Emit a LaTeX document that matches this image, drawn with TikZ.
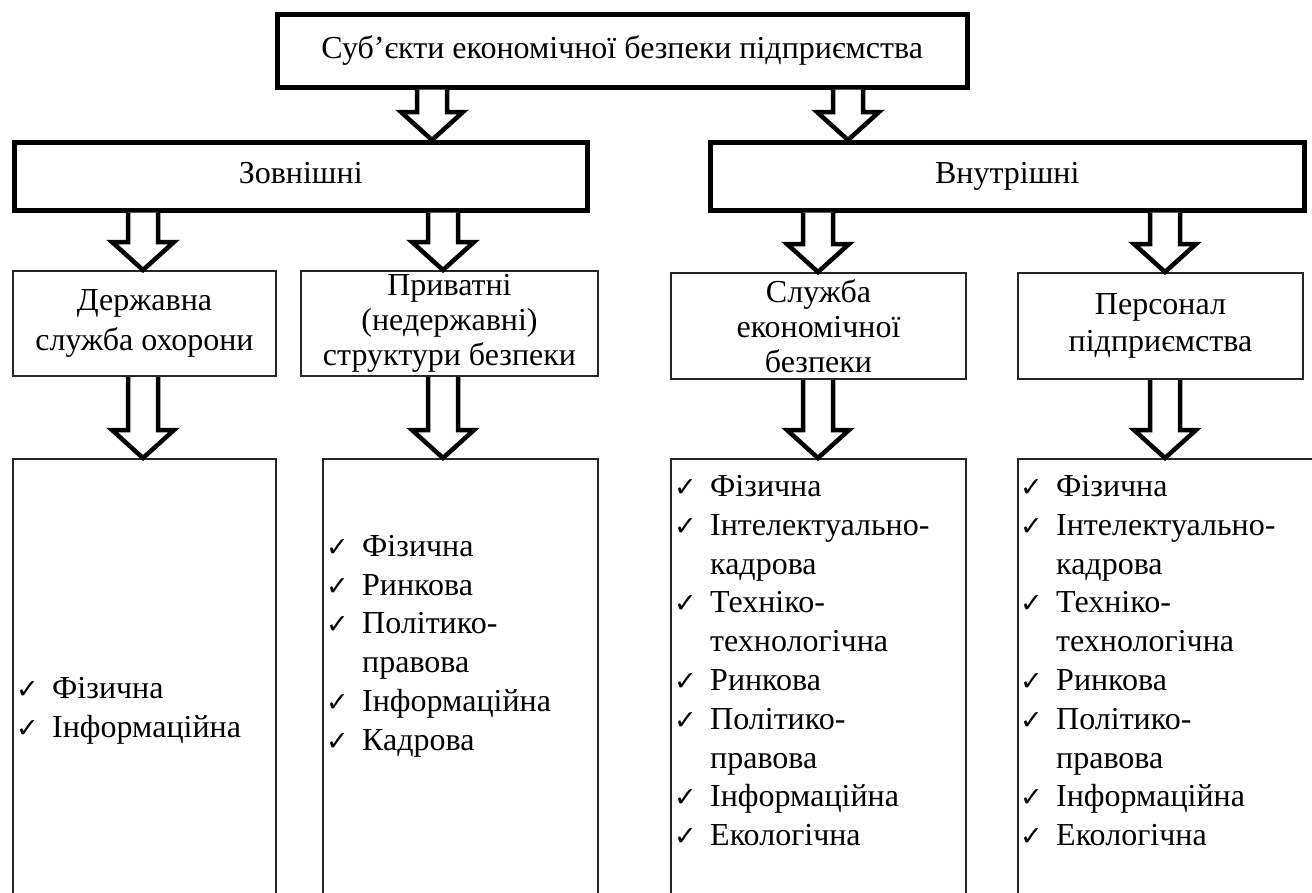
\documentclass[tikz,border=0pt]{standalone}
\usepackage{fontspec}
\setmainfont{Liberation Serif}
\newfontfamily\symf{DejaVu Sans}
\usetikzlibrary{calc}
\tikzset{
  thickbox/.style={draw, line width=4.5, fill=white, inner sep=0, anchor=north west, align=center, text height=22pt, text depth=7pt},
  thinbox/.style={draw=black!85, line width=2, fill=white, inner sep=0, anchor=north west, align=center, font=\fontsize{32}{35}\selectfont},
  listtext/.style={anchor=north west, align=left, inner sep=0},
  blockarr/.style={draw, line width=4.5, fill=white, line join=miter},
}
\newcommand{\chk}{\makebox[36pt][l]{\symf\fontsize{27}{27}\selectfont ✓}}
\newcommand{\nochk}{\hspace*{36pt}}
% #1 source node, #2 target node, #3 x position
\newcommand{\blockarrow}[3]{%
  \draw[blockarr] let \p1=(#1.south), \p2=(#2.north), \p3=(#3,0) in
    (\x3-15pt,\y1) -- (\x3-15pt,\y2+28pt) -- (\x3-31pt,\y2+28pt) -- (\x3,\y2)
    -- (\x3+31pt,\y2+28pt) -- (\x3+15pt,\y2+28pt) -- (\x3+15pt,\y1);
}
\begin{document}
\begin{tikzpicture}[x=1pt,y=-1pt]
\fontsize{32}{38.8}\selectfont
\useasboundingbox (0,0) rectangle (1312,892);
\clip (0,0) rectangle (1312,892);
% level 0
\node[thickbox, minimum width=690, minimum height=73] (top) at (275,12) {Суб’єкти економічної безпеки підприємства};
% level 1
\node[thickbox, minimum width=573, minimum height=68] (ext) at (12,140) {Зовнішні};
\node[thickbox, minimum width=594, minimum height=68] (int) at (708,140) {Внутрішні};
% level 2
\node[thinbox, minimum width=263, minimum height=105, font=\fontsize{32}{40}\selectfont] (dso) at (12,270) {Державна\\служба охорони};
\node[thinbox, minimum width=297, minimum height=105] (pns) at (300,270) {Приватні\\(недержавні)\\структури безпеки};
\node[thinbox, minimum width=295, minimum height=106] (seb) at (670,272) {Служба\\економічної\\безпеки};
\node[thinbox, minimum width=285, minimum height=106, font=\fontsize{32}{37}\selectfont] (pp) at (1017,272) {Персонал\\підприємства};
% level 3
\node[thinbox, minimum width=263, minimum height=520] (l1) at (12,458) {};
\node[thinbox, minimum width=275, minimum height=520] (l2) at (322,458) {};
\node[thinbox, minimum width=295, minimum height=520] (l3) at (670,458) {};
\node[thinbox, minimum width=300, minimum height=520] (l4) at (1017,458) {};
\node[listtext] (t1) at (16,677) {\chk Фізична\\\chk Інформаційна};
\node[listtext] (t2) at (326,535) {\chk Фізична\\\chk Ринкова\\\chk Політико-\\\nochk правова\\\chk Інформаційна\\\chk Кадрова};
\node[listtext] (t3) at (674,475) {\chk Фізична\\\chk Інтелектуально-\\\nochk кадрова\\\chk Техніко-\\\nochk технологічна\\\chk Ринкова\\\chk Політико-\\\nochk правова\\\chk Інформаційна\\\chk Екологічна};
\node[listtext] (t4) at (1020,475) {\chk Фізична\\\chk Інтелектуально-\\\nochk кадрова\\\chk Техніко-\\\nochk технологічна\\\chk Ринкова\\\chk Політико-\\\nochk правова\\\chk Інформаційна\\\chk Екологічна};
% arrows
\blockarrow{top}{ext}{432}
\blockarrow{top}{int}{848}
\blockarrow{ext}{dso}{143}
\blockarrow{ext}{pns}{443}
\blockarrow{int}{seb}{818}
\blockarrow{int}{pp}{1165}
\blockarrow{dso}{l1}{143}
\blockarrow{pns}{l2}{443}
\blockarrow{seb}{l3}{818}
\blockarrow{pp}{l4}{1165}
\end{tikzpicture}
\end{document}
